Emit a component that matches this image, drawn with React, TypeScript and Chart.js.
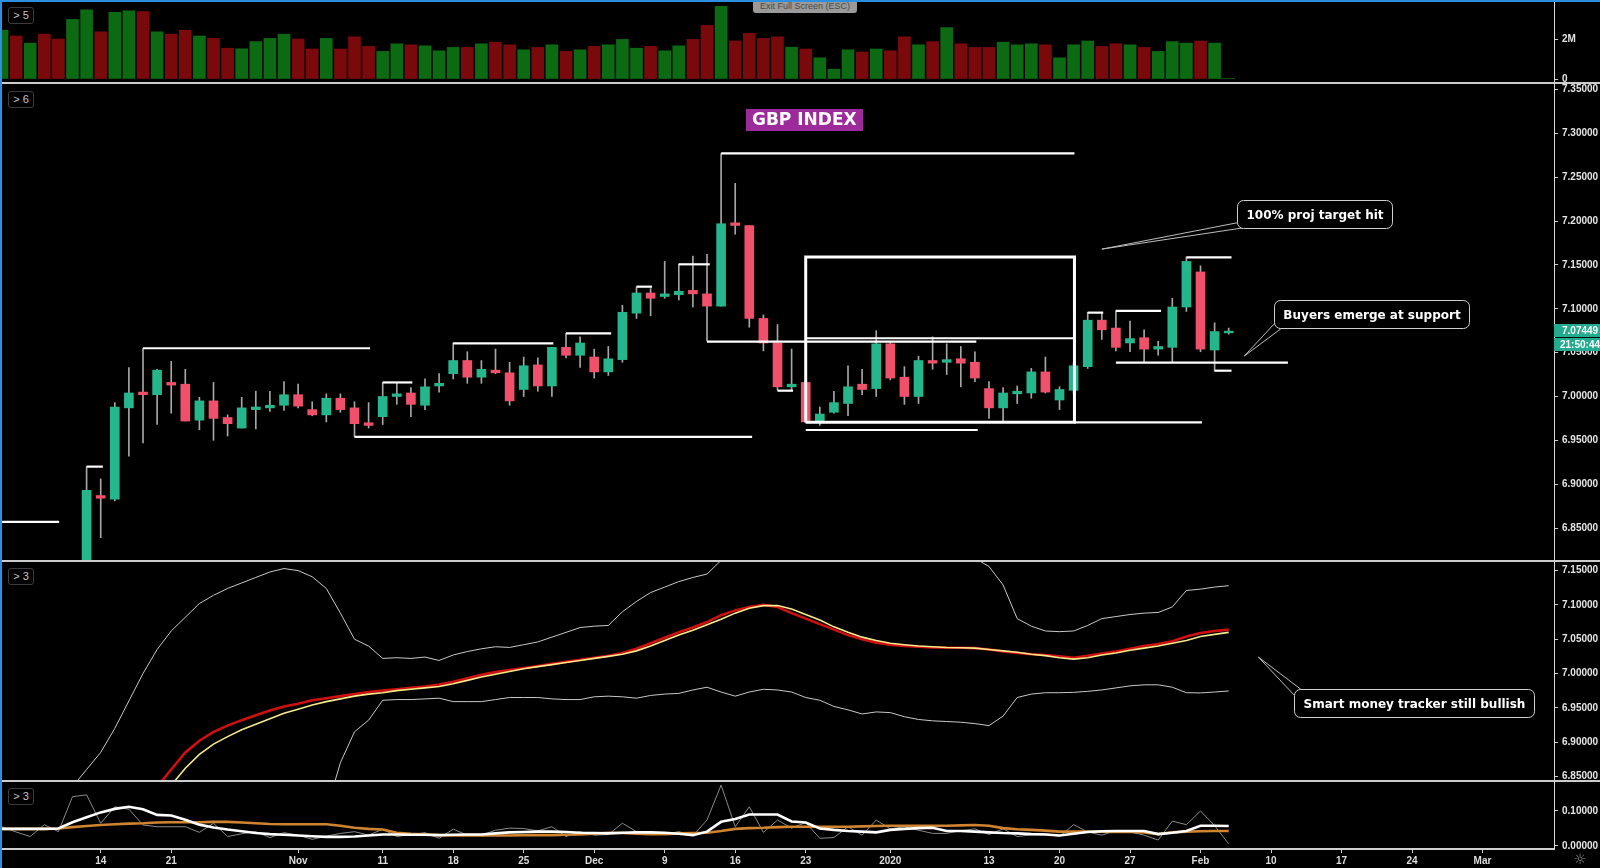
import React, { useEffect, useRef } from 'react';
import { Chart, registerables } from 'chart.js';

Chart.register(...registerables);
Chart.defaults.font.family = '"Liberation Sans", Arial, sans-serif';

// ---------------- DATA ----------------
const DATES: string[] = [
  '2019-10-03','2019-10-04','2019-10-07','2019-10-08','2019-10-09','2019-10-10','2019-10-11','2019-10-14','2019-10-15','2019-10-16',
  '2019-10-17','2019-10-18','2019-10-21','2019-10-22','2019-10-23','2019-10-24','2019-10-25','2019-10-28','2019-10-29','2019-10-30',
  '2019-10-31','2019-11-01','2019-11-04','2019-11-05','2019-11-06','2019-11-07','2019-11-08','2019-11-11','2019-11-12','2019-11-13',
  '2019-11-14','2019-11-15','2019-11-18','2019-11-19','2019-11-20','2019-11-21','2019-11-22','2019-11-25','2019-11-26','2019-11-27',
  '2019-11-28','2019-11-29','2019-12-02','2019-12-03','2019-12-04','2019-12-05','2019-12-06','2019-12-09','2019-12-10','2019-12-11',
  '2019-12-12','2019-12-13','2019-12-16','2019-12-17','2019-12-18','2019-12-19','2019-12-20','2019-12-23','2019-12-24','2019-12-26',
  '2019-12-27','2019-12-30','2019-12-31','2020-01-02','2020-01-03','2020-01-06','2020-01-07','2020-01-08','2020-01-09','2020-01-10',
  '2020-01-13','2020-01-14','2020-01-15','2020-01-16','2020-01-17','2020-01-20','2020-01-21','2020-01-22','2020-01-23','2020-01-24',
  '2020-01-27','2020-01-28','2020-01-29','2020-01-30','2020-01-31','2020-02-03','2020-02-04','2020-02-05',
];

const OPEN: number[] = [
  6.745,6.760,6.750,6.762,6.732,6.725,6.795,6.887,6.883,6.987,
  7.005,7.002,7.016,7.014,6.973,6.995,6.976,6.964,6.985,6.987,
  6.990,7.002,6.985,6.979,6.998,6.987,6.970,6.977,7.000,7.004,
  6.990,7.012,7.026,7.041,7.022,7.030,7.027,7.008,7.036,7.012,
  7.056,7.047,7.045,7.028,7.042,7.095,7.118,7.114,7.116,7.121,
  7.117,7.103,7.198,7.195,7.089,7.061,7.011,7.016,6.971,6.982,
  6.992,7.014,7.009,7.060,7.022,7.000,7.041,7.039,7.043,7.039,
  7.009,6.987,7.003,7.004,7.028,6.996,7.007,7.034,7.087,7.078,
  7.061,7.067,7.054,7.056,7.102,7.142,7.053,7.0725,
];
const HIGH: number[] = [
  6.765,6.768,6.770,6.766,6.745,6.805,6.920,6.906,6.993,7.033,
  7.055,7.031,7.040,7.031,6.999,7.016,6.979,6.999,7.006,7.006,
  7.017,7.014,6.994,7.003,7.003,6.994,6.993,7.016,7.016,7.010,
  7.020,7.026,7.061,7.051,7.041,7.054,7.039,7.045,7.044,7.056,
  7.072,7.068,7.054,7.057,7.104,7.125,7.123,7.154,7.151,7.160,
  7.162,7.277,7.243,7.195,7.093,7.082,7.054,7.016,6.988,7.006,
  7.035,7.031,7.075,7.062,7.034,7.046,7.068,7.060,7.057,7.051,
  7.017,7.010,7.012,7.032,7.045,7.011,7.038,7.096,7.096,7.098,
  7.086,7.076,7.063,7.112,7.159,7.149,7.084,7.078,
];
const LOW: number[] = [
  6.735,6.745,6.742,6.725,6.715,6.718,6.790,6.839,6.881,6.932,
  6.947,6.968,6.981,6.972,6.962,6.950,6.955,6.964,6.963,6.983,
  6.984,6.987,6.978,6.971,6.982,6.954,6.964,6.968,6.991,6.977,
  6.985,7.005,7.020,7.015,7.015,7.026,6.990,7.000,7.006,7.000,
  7.044,7.033,7.021,7.024,7.039,7.089,7.092,7.112,7.110,7.102,
  7.063,7.103,7.185,7.079,7.052,7.007,7.007,6.970,6.967,6.981,
  6.978,7.002,7.000,7.019,6.991,6.992,7.031,7.025,7.011,7.017,
  6.975,6.971,6.992,6.998,7.004,6.985,7.003,7.032,7.065,7.052,
  7.051,7.0385,7.047,7.0385,7.097,7.051,7.029,7.071,
];
const CLOSE: number[] = [
  6.760,6.750,6.762,6.732,6.725,6.795,6.893,6.884,6.988,7.004,
  7.002,7.030,7.013,6.972,6.995,6.975,6.969,6.987,6.988,6.990,
  7.002,6.989,6.979,6.998,6.985,6.969,6.967,7.000,7.003,6.991,
  7.011,7.015,7.041,7.022,7.031,7.027,6.995,7.035,7.012,7.056,
  7.047,7.061,7.028,7.043,7.096,7.118,7.112,7.117,7.120,7.117,
  7.103,7.197,7.195,7.089,7.061,7.011,7.014,6.971,6.980,6.993,
  7.011,7.008,7.060,7.021,7.000,7.041,7.038,7.042,7.038,7.021,
  6.987,7.004,7.006,7.028,7.005,7.008,7.035,7.087,7.076,7.056,
  7.066,7.054,7.057,7.102,7.154,7.054,7.074,7.0745,
];

// volume, millions
const VOLUME_M: number[] = [
  2.44,2.15,1.79,2.24,2.00,2.98,3.46,2.36,3.33,3.41,
  3.37,2.36,2.24,2.44,2.15,2.03,1.54,1.51,1.87,2.03,
  2.24,2.00,1.50,2.03,1.50,2.11,1.63,1.38,1.76,1.71,
  1.66,1.41,1.58,1.58,1.76,1.84,1.71,1.46,1.58,1.71,
  1.38,1.46,1.63,1.71,1.98,1.54,1.63,1.41,1.66,1.98,
  2.68,3.63,1.90,2.28,2.03,2.11,1.59,1.50,1.06,0.49,
  1.46,1.35,1.50,1.41,2.11,1.71,1.87,2.57,1.76,1.58,
  1.58,1.84,1.71,1.76,1.71,1.06,1.71,1.90,1.63,1.76,
  1.71,1.58,1.38,1.87,1.79,1.90,1.79,0.03,
];

const UPPER_BAND: (number | null)[] = [
  null,null,null,null,6.78,6.835,6.86,6.885,6.92,6.96,
  7.0,7.035,7.062,7.082,7.102,7.114,7.124,7.132,7.14,7.148,
  7.153,7.15,7.141,7.124,7.088,7.05,7.04,7.022,7.023,7.022,
  7.024,7.019,7.027,7.032,7.036,7.039,7.038,7.042,7.046,7.053,
  7.06,7.067,7.069,7.07,7.09,7.105,7.118,7.126,7.134,7.14,
  7.145,7.165,7.18,7.2,7.22,7.24,7.25,7.26,7.265,7.27,
  7.27,7.265,7.26,7.25,7.24,7.23,7.21,7.19,7.175,7.168,
  7.156,7.129,7.08,7.069,7.062,7.061,7.062,7.07,7.08,7.083,
  7.086,7.088,7.089,7.097,7.121,7.123,7.126,7.128,
];
const LOWER_BAND: (number | null)[] = [
  null,null,null,null,null,null,null,null,null,null,
  null,null,null,null,null,null,null,null,null,null,
  null,null,null,6.80,6.87,6.915,6.932,6.961,6.962,6.962,
  6.963,6.964,6.959,6.959,6.959,6.962,6.965,6.965,6.965,6.963,
  6.962,6.962,6.966,6.967,6.966,6.964,6.968,6.970,6.971,6.976,
  6.980,6.973,6.967,6.973,6.977,6.976,6.973,6.965,6.961,6.952,
  6.947,6.941,6.944,6.943,6.937,6.933,6.931,6.930,6.929,6.927,
  6.924,6.938,6.965,6.970,6.972,6.972,6.9725,6.974,6.976,6.979,
  6.982,6.9835,6.9835,6.980,6.972,6.9717,6.973,6.9745,
];
const MA_RED: (number | null)[] = [
  null,null,null,null,null,null,null,null,null,null,
  null,6.835,6.86,6.885,6.902,6.915,6.924,6.932,6.939,6.946,
  6.952,6.956,6.961,6.964,6.967,6.970,6.973,6.975,6.977,6.979,
  6.981,6.984,6.988,6.993,6.998,7.002,7.005,7.008,7.011,7.014,
  7.017,7.020,7.023,7.026,7.030,7.036,7.044,7.052,7.060,7.067,
  7.075,7.085,7.092,7.097,7.100,7.097,7.088,7.080,7.072,7.064,
  7.056,7.050,7.045,7.042,7.040,7.039,7.038,7.0375,7.0375,7.037,
  7.035,7.032,7.030,7.028,7.027,7.025,7.023,7.026,7.029,7.032,
  7.036,7.040,7.043,7.047,7.054,7.059,7.062,7.064,
];
const MA_YELLOW: (number | null)[] = [
  null,null,null,null,null,null,null,null,null,null,
  null,null,6.837,6.862,6.882,6.897,6.908,6.918,6.926,6.934,
  6.942,6.948,6.954,6.959,6.963,6.967,6.970,6.972,6.975,6.977,
  6.979,6.981,6.985,6.990,6.995,6.999,7.003,7.007,7.010,7.013,
  7.016,7.019,7.022,7.025,7.028,7.033,7.040,7.048,7.056,7.063,
  7.071,7.079,7.088,7.095,7.099,7.099,7.094,7.086,7.078,7.068,
  7.060,7.053,7.048,7.044,7.042,7.040,7.039,7.038,7.0375,7.037,
  7.035,7.033,7.031,7.028,7.026,7.023,7.021,7.023,7.027,7.030,
  7.034,7.037,7.040,7.044,7.048,7.054,7.057,7.060,
];

const OSC_RAW: number[] = [
  0.055,0.040,0.027,0.061,0.041,0.141,0.146,0.065,0.112,0.105,
  0.060,0.055,0.055,0.055,0.039,0.065,0.027,0.035,0.041,0.024,
  0.038,0.031,0.019,0.028,0.036,0.041,0.031,0.048,0.027,0.033,
  0.038,0.022,0.048,0.031,0.031,0.045,0.051,0.050,0.043,0.055,
  0.027,0.041,0.031,0.033,0.065,0.041,0.037,0.033,0.041,0.029,
  0.074,0.174,0.055,0.112,0.039,0.074,0.051,0.067,0.022,0.024,
  0.055,0.031,0.074,0.049,0.055,0.045,0.036,0.036,0.044,0.049,
  0.033,0.049,0.027,0.032,0.036,0.027,0.061,0.040,0.031,0.044,
  0.040,0.031,0.017,0.071,0.061,0.100,0.058,0.006,
];
const OSC_SMOOTH: number[] = [
  0.049,0.049,0.049,0.049,0.050,0.068,0.082,0.096,0.106,0.112,
  0.105,0.089,0.087,0.075,0.061,0.053,0.047,0.042,0.037,0.034,
  0.032,0.030,0.028,0.026,0.026,0.027,0.030,0.033,0.033,0.032,
  0.032,0.031,0.032,0.033,0.033,0.036,0.039,0.040,0.041,0.041,
  0.040,0.038,0.037,0.036,0.038,0.039,0.039,0.038,0.035,0.031,
  0.041,0.069,0.077,0.090,0.090,0.090,0.070,0.067,0.050,0.046,
  0.043,0.041,0.039,0.046,0.049,0.051,0.052,0.043,0.043,0.041,
  0.039,0.037,0.036,0.034,0.033,0.030,0.035,0.040,0.042,0.043,
  0.043,0.043,0.034,0.038,0.043,0.058,0.058,0.057,
];
const OSC_SIGNAL: number[] = [
  0.049,0.049,0.049,0.049,0.050,0.054,0.057,0.060,0.062,0.064,
  0.065,0.067,0.068,0.068,0.068,0.069,0.069,0.067,0.065,0.063,
  0.062,0.062,0.062,0.062,0.058,0.052,0.049,0.047,0.038,0.035,
  0.033,0.031,0.030,0.030,0.030,0.030,0.030,0.031,0.031,0.031,
  0.032,0.033,0.035,0.038,0.037,0.035,0.034,0.034,0.036,0.037,
  0.038,0.043,0.049,0.051,0.052,0.054,0.055,0.055,0.055,0.055,
  0.055,0.056,0.057,0.058,0.058,0.058,0.058,0.058,0.059,0.060,
  0.058,0.051,0.048,0.046,0.044,0.041,0.041,0.041,0.041,0.040,
  0.040,0.039,0.034,0.039,0.041,0.042,0.043,0.043,
];

const X_TICK_INDEX: number[] = [7, 12, 21, 27, 32, 37, 42, 47, 52, 57, 63, 70, 75, 80, 85, 90, 95, 100, 105];
const X_TICK_LABELS: string[] = ['14', '21', 'Nov', '11', '18', '25', 'Dec', '9', '16', '23', '2020', '13', '20', '27', 'Feb', '10', '17', '24', 'Mar'];
const VOL_TICKS: number[] = [0, 2];
const PRICE_TICKS: number[] = [6.85, 6.9, 6.95, 7.0, 7.05, 7.1, 7.15, 7.2, 7.25, 7.3, 7.35];
const BAND_TICKS: number[] = [6.85, 6.9, 6.95, 7.0, 7.05, 7.1, 7.15];
const OSC_TICKS: number[] = [0, 0.1];

const LAST_PRICE = 7.07449;
const COUNTDOWN = '21:50:44';
const TITLE = 'GBP INDEX';

// drawings, in (bar index, value) coordinates
const LEVEL_LINES: number[][] = [
  [-0.3, 6.857, 4.05, 6.857],
  [6, 6.92, 7.15, 6.92],
  [10, 7.055, 26.1, 7.055],
  [25, 6.954, 53.2, 6.954],
  [27, 7.016, 29.1, 7.016],
  [32, 7.0606, 39.1, 7.0606],
  [40, 7.072, 43.2, 7.072],
  [45, 7.1252, 46.1, 7.1252],
  [48, 7.1507, 50.2, 7.1507],
  [50, 7.0625, 69.1, 7.0625],
  [51, 7.2773, 76.06, 7.2773],
  [55, 7.0066, 56.1, 7.0066],
  [57, 7.0664, 76.06, 7.0664],
  [76.06, 6.9705, 85.1, 6.9705],
  [57, 6.9618, 69.2, 6.9618],
  [77, 7.0956, 78.1, 7.0956],
  [79, 7.0975, 82.2, 7.0975],
  [79, 7.0385, 91.2, 7.0385],
  [84, 7.1587, 87.2, 7.1587],
  [86, 7.0294, 87.2, 7.0294],
];
const RANGE_BOX: number[] = [57, 6.9705, 76.06, 7.159];
const TITLE_AT = { x: 56.9, y: 7.3153 };
const PRICE_CALLOUTS = [
  { text: '100% proj target hit', boxX: 93.1, boxY: 7.2081, tipX: 78.0, tipY: 7.168, tail: 'bottom' },
  { text: 'Buyers emerge at support', boxX: 97.1, boxY: 7.0937, tipX: 88.1, tipY: 7.046, tail: 'bottom' },
];
const BAND_CALLOUTS = [
  { text: 'Smart money tracker still bullish', boxX: 100.14, boxY: 6.9563, tipX: 89.1, tipY: 7.024, tail: 'top' },
];

// ---------------- HELPERS ----------------
const X_MIN = -0.142;
const X_MAX = 110.07;
const AXIS_W = 46;
const UP_BODY = '#26b68c';
const DOWN_BODY = '#f0506a';
const UP_VOL = '#0b6a12';
const DOWN_VOL = '#7a090c';

const isUp = DATES.map((_, i) => CLOSE[i] >= OPEN[i]);

function xScale(display: boolean) {
  return {
    type: 'linear',
    min: X_MIN,
    max: X_MAX,
    bounds: 'data',
    offset: false,
    display,
    grid: { display, drawOnChartArea: false, drawTicks: true, tickLength: 4, color: '#cfcfcf', offset: false },
    border: { display, color: '#cfcfcf', width: 2 },
    ticks: {
      color: '#dcdcdc',
      font: { size: 10, weight: 'bold' },
      padding: 2,
      maxRotation: 0,
      autoSkip: false,
      callback: (_v: any, i: number) => X_TICK_LABELS[i],
    },
    afterBuildTicks: (s: any) => {
      s.ticks = X_TICK_INDEX.map((v) => ({ value: v }));
    },
    afterFit: (s: any) => {
      s.height = display ? 19 : 0;
      s.paddingLeft = 0;
      s.paddingRight = 0;
    },
  };
}

function yScale(min: number, max: number, ticks: number[], fmt: (v: number) => string) {
  return {
    type: 'linear',
    position: 'right',
    min,
    max,
    bounds: 'data',
    grid: { drawOnChartArea: false, drawTicks: true, tickLength: 4, color: '#cfcfcf' },
    border: { display: true, color: '#d8d8d8', width: 1 },
    ticks: {
      color: '#e4e4e4',
      font: { size: 10, weight: 'bold' },
      padding: 4,
      autoSkip: false,
      callback: (v: any) => fmt(Number(v)),
    },
    afterBuildTicks: (s: any) => {
      s.ticks = ticks.map((v) => ({ value: v }));
    },
    afterFit: (s: any) => {
      s.width = AXIS_W;
      s.paddingTop = 0;
      s.paddingBottom = 0;
    },
  };
}

function baseOptions(y: any, xDisplay: boolean) {
  return {
    responsive: false,
    animation: false,
    events: [],
    layout: { padding: 0, autoPadding: false },
    plugins: { legend: { display: false }, tooltip: { enabled: false } },
    scales: { x: xScale(xDisplay), y },
  };
}

function roundRectPath(ctx: CanvasRenderingContext2D, x: number, y: number, w: number, h: number, r: number) {
  ctx.beginPath();
  ctx.moveTo(x + r, y);
  ctx.lineTo(x + w - r, y);
  ctx.arcTo(x + w, y, x + w, y + r, r);
  ctx.lineTo(x + w, y + h - r);
  ctx.arcTo(x + w, y + h, x + w - r, y + h, r);
  ctx.lineTo(x + r, y + h);
  ctx.arcTo(x, y + h, x, y + h - r, r);
  ctx.lineTo(x, y + r);
  ctx.arcTo(x, y, x + r, y, r);
  ctx.closePath();
}

function drawCallouts(chart: any, callouts: any[]) {
  const ctx: CanvasRenderingContext2D = chart.ctx;
  const xs = chart.scales.x;
  const ys = chart.scales.y;
  ctx.save();
  for (const c of callouts) {
    ctx.font = 'bold 12px "DejaVu Sans", sans-serif';
    const tw = ctx.measureText(c.text).width;
    const w = Math.round(tw + 18);
    const h = 28;
    const cx = xs.getPixelForValue(c.boxX);
    const cy = ys.getPixelForValue(c.boxY);
    const left = Math.round(cx - w / 2) + 0.5;
    const top = Math.round(cy - h / 2) + 0.5;
    const tx = xs.getPixelForValue(c.tipX);
    const ty = ys.getPixelForValue(c.tipY);
    const a1 = c.tail === 'bottom' ? [left + 1, top + h - 6] : [left + 1, top + 7];
    const a2 = c.tail === 'bottom' ? [left + 8, top + h - 1] : [left + 8, top + 1];
    ctx.beginPath();
    ctx.moveTo(a1[0], a1[1]);
    ctx.lineTo(tx, ty);
    ctx.lineTo(a2[0], a2[1]);
    ctx.fillStyle = '#000';
    ctx.fill();
    ctx.strokeStyle = '#bdbdbd';
    ctx.lineWidth = 1;
    ctx.stroke();
    roundRectPath(ctx, left, top, w, h, 6);
    ctx.fillStyle = '#000';
    ctx.fill();
    ctx.strokeStyle = '#cfcfcf';
    ctx.stroke();
    ctx.fillStyle = '#ffffff';
    ctx.textAlign = 'center';
    ctx.textBaseline = 'middle';
    ctx.fillText(c.text, left + w / 2, top + h / 2 + 1);
  }
  ctx.restore();
}

const pricePlugin = {
  id: 'priceDecor',
  afterDatasetsDraw(chart: any) {
    drawCallouts(chart, PRICE_CALLOUTS);
    const ctx: CanvasRenderingContext2D = chart.ctx;
    const xs = chart.scales.x;
    const ys = chart.scales.y;
    ctx.save();
    ctx.font = 'bold 17px "DejaVu Sans", sans-serif';
    const tw = ctx.measureText(TITLE).width;
    const w = Math.round(tw + 12);
    const h = 22;
    const cx = xs.getPixelForValue(TITLE_AT.x);
    const cy = ys.getPixelForValue(TITLE_AT.y);
    ctx.fillStyle = '#9c2a9a';
    ctx.fillRect(Math.round(cx - w / 2), Math.round(cy - h / 2), w, h);
    ctx.fillStyle = '#ffffff';
    ctx.textAlign = 'center';
    ctx.textBaseline = 'middle';
    ctx.fillText(TITLE, cx, cy + 1);
    ctx.restore();
  },
  afterDraw(chart: any) {
    const ctx: CanvasRenderingContext2D = chart.ctx;
    const ys = chart.scales.y;
    const x0 = chart.chartArea.right;
    const y = Math.round(ys.getPixelForValue(LAST_PRICE));
    ctx.save();
    ctx.fillStyle = '#22ab8e';
    ctx.fillRect(x0, y - 7, chart.width - x0, 13);
    ctx.fillRect(x0, y + 7, chart.width - x0, 13);
    ctx.fillStyle = '#ffffff';
    ctx.font = 'bold 10px "Liberation Sans", Arial, sans-serif';
    ctx.textAlign = 'left';
    ctx.textBaseline = 'middle';
    ctx.fillText(LAST_PRICE.toFixed(5), x0 + 8, y);
    ctx.fillText(COUNTDOWN, x0 + 6, y + 14);
    ctx.restore();
  },
};

const bandPlugin = {
  id: 'bandDecor',
  afterDatasetsDraw(chart: any) {
    drawCallouts(chart, BAND_CALLOUTS);
  },
};

function lineDs(values: (number | null)[], color: string, width: number, order: number) {
  return {
    type: 'line',
    data: values.map((v, i) => ({ x: i, y: v })),
    borderColor: color,
    borderWidth: width,
    pointRadius: 0,
    tension: 0,
    order,
  };
}

// ---------------- COMPONENT ----------------
export default function App() {
  const volRef = useRef<HTMLCanvasElement>(null);
  const priceRef = useRef<HTMLCanvasElement>(null);
  const bandRef = useRef<HTMLCanvasElement>(null);
  const oscRef = useRef<HTMLCanvasElement>(null);

  useEffect(() => {
    const charts: Chart[] = [];

    charts.push(
      new Chart(volRef.current as HTMLCanvasElement, {
        type: 'bar',
        data: {
          datasets: [
            {
              data: VOLUME_M.map((v, i) => ({ x: i, y: v })),
              backgroundColor: isUp.map((u) => (u ? UP_VOL : DOWN_VOL)),
              barThickness: 12,
              borderWidth: 0,
            } as any,
          ],
        },
        options: baseOptions(yScale(-0.15, 3.85, VOL_TICKS, (v) => (v === 0 ? '0' : v + 'M')), false) as any,
      })
    );

    const levelDatasets = LEVEL_LINES.map((s) => ({
      type: 'line',
      data: [
        { x: s[0], y: s[1] },
        { x: s[2], y: s[3] },
      ],
      borderColor: '#ffffff',
      borderWidth: 2.2,
      pointRadius: 0,
      order: 0,
    }));
    const [bx1, by1, bx2, by2] = RANGE_BOX;
    const boxDataset = {
      type: 'line',
      data: [
        { x: bx1, y: by1 },
        { x: bx1, y: by2 },
        { x: bx2, y: by2 },
        { x: bx2, y: by1 },
        { x: bx1, y: by1 },
      ],
      borderColor: '#ffffff',
      borderWidth: 3,
      pointRadius: 0,
      order: 0,
    };

    charts.push(
      new Chart(priceRef.current as HTMLCanvasElement, {
        type: 'bar',
        data: {
          datasets: [
            {
              data: DATES.map((_, i) => ({ x: i, y: [LOW[i], HIGH[i]] })),
              backgroundColor: '#a6a6a6',
              barThickness: 1,
              grouped: false,
              borderWidth: 0,
              order: 3,
            },
            {
              data: DATES.map((_, i) => ({ x: i, y: [Math.min(OPEN[i], CLOSE[i]), Math.max(OPEN[i], CLOSE[i])] })),
              backgroundColor: isUp.map((u) => (u ? UP_BODY : DOWN_BODY)),
              barThickness: 9,
              grouped: false,
              borderWidth: 0,
              order: 2,
            },
            ...levelDatasets,
            boxDataset,
          ] as any,
        },
        options: baseOptions(yScale(6.8124, 7.3563, PRICE_TICKS, (v) => v.toFixed(5)), false) as any,
        plugins: [pricePlugin],
      })
    );

    charts.push(
      new Chart(bandRef.current as HTMLCanvasElement, {
        type: 'line',
        data: {
          datasets: [
            lineDs(UPPER_BAND, '#c8c8c8', 1, 4),
            lineDs(LOWER_BAND, '#c8c8c8', 1, 4),
            lineDs(MA_RED, '#d10f0f', 2.6, 2),
            lineDs(MA_YELLOW, '#f7e98a', 1.6, 1),
          ] as any,
        },
        options: baseOptions(yScale(6.8433, 7.164, BAND_TICKS, (v) => v.toFixed(5)), false) as any,
        plugins: [bandPlugin],
      })
    );

    charts.push(
      new Chart(oscRef.current as HTMLCanvasElement, {
        type: 'line',
        data: {
          datasets: [
            lineDs(OSC_RAW, '#8a8a8a', 1, 3),
            lineDs(OSC_SIGNAL, '#d08430', 2.6, 2),
            lineDs(OSC_SMOOTH, '#ffffff', 2.6, 1),
          ] as any,
        },
        options: baseOptions(yScale(-0.0086, 0.1857, OSC_TICKS, (v) => v.toFixed(5)), true) as any,
      })
    );

    return () => charts.forEach((c) => c.destroy());
  }, []);

  const pane = (top: number, height: number): React.CSSProperties => ({
    position: 'absolute',
    left: 0,
    top,
    width: 1600,
    height,
  });
  const sep = (top: number): React.CSSProperties => ({
    position: 'absolute',
    left: 0,
    top,
    width: 1600,
    height: 2,
    background: '#cccccc',
    zIndex: 2,
  });
  const tag = (top: number): React.CSSProperties => ({
    position: 'absolute',
    left: 8,
    top,
    width: 24,
    height: 15,
    border: '1px solid #3c3c3c',
    borderRadius: 3,
    color: '#c4c4c4',
    font: '11px "Liberation Sans", Arial, sans-serif',
    lineHeight: '15px',
    textAlign: 'center',
    background: '#000',
    zIndex: 3,
  });

  return (
    <div
      style={{
        position: 'fixed',
        left: 0,
        top: 0,
        width: 1600,
        height: 868,
        background: '#000',
        overflow: 'hidden',
      }}
    >
      <div style={pane(2, 80)}>
        <canvas ref={volRef} width={1600} height={80} />
      </div>
      <div style={pane(84, 477)}>
        <canvas ref={priceRef} width={1600} height={477} />
      </div>
      <div style={pane(561, 220)}>
        <canvas ref={bandRef} width={1600} height={220} />
      </div>
      <div style={pane(781, 87)}>
        <canvas ref={oscRef} width={1600} height={87} />
      </div>

      <div style={sep(82)} />
      <div style={sep(560)} />
      <div style={sep(780)} />

      <div style={tag(7)}>&gt; 5</div>
      <div style={tag(91)}>&gt; 6</div>
      <div style={tag(568)}>&gt; 3</div>
      <div style={tag(788)}>&gt; 3</div>

      <div
        style={{
          position: 'absolute',
          left: 753,
          top: 0,
          width: 104,
          height: 13,
          background: '#9a9a9a',
          color: '#4a4a4a',
          font: '9px "Liberation Sans", Arial, sans-serif',
          lineHeight: '13px',
          textAlign: 'center',
          borderRadius: '0 0 3px 3px',
          zIndex: 4,
        }}
      >
        Exit Full Screen (ESC)
      </div>

      <div
        style={{
          position: 'absolute',
          left: 1571,
          top: 851,
          width: 18,
          height: 16,
          color: '#9a9a9a',
          font: '14px "DejaVu Sans", sans-serif',
          lineHeight: '16px',
          textAlign: 'center',
          zIndex: 4,
        }}
      >
        ☼
      </div>

      <div style={{ position: 'absolute', left: 0, top: 0, width: 2, height: 868, background: '#2c8fe0', zIndex: 5 }} />
      <div style={{ position: 'absolute', left: 0, top: 0, width: 1600, height: 2, background: '#2c8fe0', zIndex: 5 }} />
    </div>
  );
}
